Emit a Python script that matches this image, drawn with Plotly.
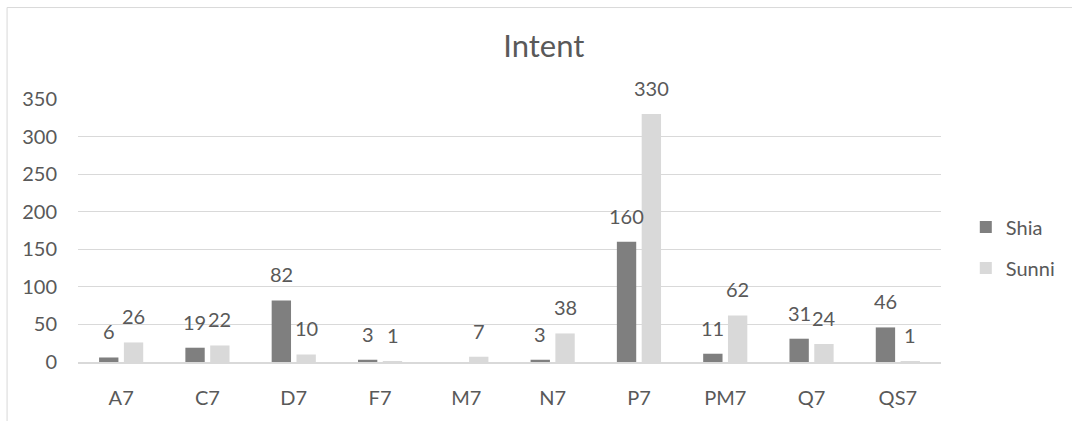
import plotly.graph_objects as go

# Intent counts per code, split by group
categories = ["A7", "C7", "D7", "F7", "M7", "N7", "P7", "PM7", "Q7", "QS7"]
shia = [6, 19, 82, 3, None, 3, 160, 11, 31, 46]
sunni = [26, 22, 10, 1, 7, 38, 330, 62, 24, 1]
y_ticks = [0, 50, 100, 150, 200, 250, 300, 350]

W, H = 1072, 421
L, R, T, B = 78, 124, 99, 56
PLOT_W = W - L - R
PLOT_H = H - T - B

FONT = "Lato"
TEXT = "#595959"
GRID = "#d9d9d9"
SHIA_C = "#7f7f7f"
SUNNI_C = "#d9d9d9"
FS = 20

BARGAP = 0.425
GROUPGAP = 0.22

# pixel offset of each series' bar centre from the category centre
slot = PLOT_W / len(categories) * (1 - BARGAP) / 2
offsets = [-slot / 2, slot / 2]

fig = go.Figure()
fig.add_trace(go.Bar(name="Shia", x=categories, y=shia, marker_color=SHIA_C,
                     marker_line_width=0, legendgroup="a"))
fig.add_trace(go.Bar(name="Sunni", x=categories, y=sunni, marker_color=SUNNI_C,
                     marker_line_width=0, legendgroup="b"))

# value labels above every bar
annotations = []
for series, dx in ((shia, offsets[0]), (sunni, offsets[1])):
    for cat, v in zip(categories, series):
        if v is None:
            continue
        annotations.append(dict(
            x=cat, y=v, xref="x", yref="y", text=str(v), showarrow=False,
            xanchor="center", yanchor="bottom", xshift=dx, yshift=12,
            font=dict(family=FONT, size=FS, color=TEXT)))

# chart-area frame (left and top edges visible)
fx0 = (6.5 - L) / PLOT_W
fy1 = (H - B - 6.5) / PLOT_H
fig.add_shape(type="rect", xref="paper", yref="paper", x0=fx0, x1=1.5, y0=-0.5, y1=fy1,
              line=dict(color=GRID, width=1), fillcolor="rgba(0,0,0,0)", layer="below")

fig.update_layout(
    width=W, height=H,
    margin=dict(l=L, r=R, t=T, b=B, pad=0),
    paper_bgcolor="white", plot_bgcolor="white",
    barmode="group", bargap=BARGAP, bargroupgap=GROUPGAP,
    font=dict(family=FONT, size=FS, color=TEXT),
    title=dict(text="Intent", x=543.8 / W, xref="container", xanchor="center",
               y=1 - 46.5 / H, yref="container", yanchor="middle",
               font=dict(family=FONT, size=31, color=TEXT)),
    legend=dict(x=(973 - L) / PLOT_W, xanchor="left", y=0.435, yanchor="middle",
                font=dict(family=FONT, size=FS, color=TEXT),
                tracegroupgap=12, traceorder="grouped", bgcolor="rgba(0,0,0,0)"),
    annotations=annotations,
    showlegend=True,
)
fig.update_xaxes(showgrid=False, showline=True, linecolor=GRID, linewidth=2,
                 ticks="", ticklabelstandoff=17, tickfont=dict(size=FS, color=TEXT),
                 fixedrange=True)
fig.update_yaxes(range=[0, 350], tickvals=y_ticks, showgrid=True, gridcolor=GRID,
                 gridwidth=1, zeroline=False, showline=False, ticks="",
                 ticklabelstandoff=20, tickfont=dict(size=FS, color=TEXT), fixedrange=True)

fig.write_html("out.html")
